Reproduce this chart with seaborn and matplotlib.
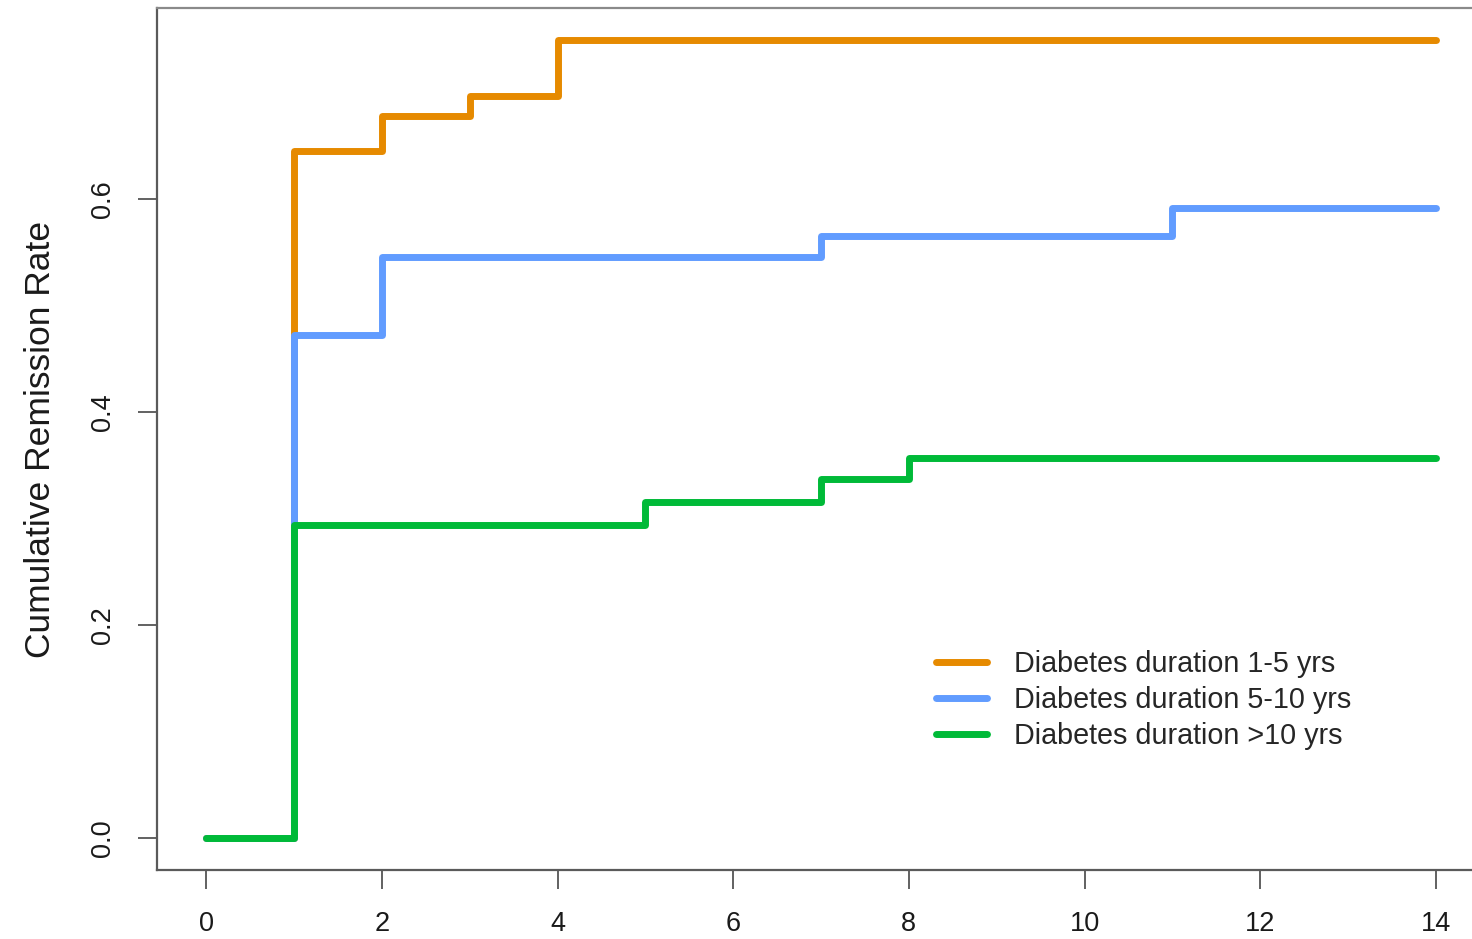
import matplotlib
matplotlib.use("Agg")
import matplotlib.pyplot as plt
import seaborn as sns
import pandas as pd
from matplotlib.lines import Line2D

# Cumulative remission step curves by diabetes duration group
groups = ["Diabetes duration 1-5 yrs", "Diabetes duration 5-10 yrs", "Diabetes duration >10 yrs"]
colors = ["#E68A00", "#619CFF", "#00BA38"]

t_short = [0, 1, 2, 3, 4, 14]
r_short = [0.0, 0.645, 0.678, 0.696, 0.749, 0.749]

t_mid = [0, 1, 2, 7, 11, 14]
r_mid = [0.0, 0.4725, 0.545, 0.565, 0.591, 0.591]

t_long = [0, 1, 5, 7, 8, 14]
r_long = [0.0, 0.294, 0.315, 0.337, 0.357, 0.357]

x_ticks = [0, 2, 4, 6, 8, 10, 12, 14]
y_ticks = [0.0, 0.2, 0.4, 0.6]

frames = []
for name, t, r in zip(groups, [t_short, t_mid, t_long], [r_short, r_mid, r_long]):
    frames.append(pd.DataFrame({"time": t, "rate": r, "group": name}))
df = pd.concat(frames, ignore_index=True)

sns.set_theme(style="white")
plt.rcParams["font.family"] = ["Liberation Sans", "DejaVu Sans"]

fig = plt.figure(figsize=(14.72, 9.39), dpi=100)
ax = fig.add_axes([0.10666, 0.07348, 0.9022, 0.918])

sns.lineplot(
    data=df, x="time", y="rate", hue="group", hue_order=groups,
    palette=colors, estimator=None, sort=False, drawstyle="steps-post",
    linewidth=5, ax=ax, legend=False,
    solid_capstyle="round", solid_joinstyle="round",
)

ax.set_xlim(-0.56, 14.56)
ax.set_ylim(-0.02996, 0.779)
ax.set_xticks(x_ticks)
ax.set_xticklabels([str(v) for v in x_ticks])
ax.set_yticks(y_ticks)
ax.set_yticklabels([f"{v:.1f}" for v in y_ticks])
for lab in ax.get_yticklabels():
    lab.set_rotation(90)
    lab.set_va("center")

ax.tick_params(axis="both", which="both", direction="out", length=13.5, width=1.3,
               color="#555555", labelsize=19.5, labelcolor="#1a1a1a", pad=16,
               bottom=True, left=True)
ax.set_xlabel("")
ax.set_ylabel("Cumulative Remission Rate", fontsize=25.5, color="#1a1a1a", labelpad=24)

for side in ["top", "right"]:
    ax.spines[side].set_color("#8a8a8a")
    ax.spines[side].set_linewidth(1.6)
for side in ["left", "bottom"]:
    ax.spines[side].set_color("#5a5a5a")
    ax.spines[side].set_linewidth(1.6)

handles = [Line2D([0], [0], color=c, lw=5, solid_capstyle="round") for c in colors]
ax.legend(handles, groups, loc="upper left", bbox_to_anchor=(0.5776, 0.268),
          frameon=False, fontsize=20.7, handlelength=1.78, handletextpad=0.94,
          labelspacing=0.27, borderaxespad=0)

fig.savefig("out.png", dpi=100)
